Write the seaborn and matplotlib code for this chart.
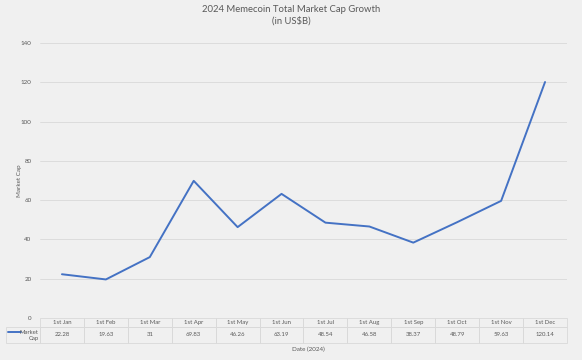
import pandas as pd
import seaborn as sns
import matplotlib.pyplot as plt
from matplotlib.lines import Line2D

months = ['1st Jan', '1st Feb', '1st Mar', '1st Apr', '1st May', '1st Jun',
          '1st Jul', '1st Aug', '1st Sep', '1st Oct', '1st Nov', '1st Dec']
market_cap = [22.28, 19.63, 31, 69.83, 46.26, 63.19,
              48.54, 46.58, 38.37, 48.79, 59.63, 120.14]
value_labels = ['22.28', '19.63', '31', '69.83', '46.26', '63.19',
                '48.54', '46.58', '38.37', '48.79', '59.63', '120.14']

df = pd.DataFrame({'pos': range(len(months)), 'month': months, 'cap': market_cap})

bg = '#f0f0f0'
grid_c = '#d9d9d9'
text_c = '#595959'
blue = '#4472C4'

sns.set_theme(style="white")
plt.rcParams['font.family'] = ['Lato', 'DejaVu Sans']

fig = plt.figure(figsize=(5.82, 3.6), dpi=100, facecolor=bg)
ax = fig.add_axes([40 / 582, 1 - 318 / 360, 527 / 582, 275 / 360])
ax.set_facecolor(bg)

sns.lineplot(data=df, x='pos', y='cap', ax=ax, color=blue, linewidth=1.4)

ax.set_xlim(-0.5, 11.5)
ax.set_ylim(0, 140)
ax.set_yticks(range(0, 141, 20))
ax.yaxis.grid(True, color=grid_c, linewidth=0.6)
ax.set_axisbelow(True)
for s in ax.spines.values():
    s.set_visible(False)
ax.set_xticks([])
ax.tick_params(axis='y', length=0, labelsize=4.5, labelcolor=text_c, pad=6)
ax.set_xlabel('')
ax.set_ylabel('Market Cap', fontsize=4.5, color=text_c)
ax.yaxis.set_label_coords(-18 / 527, 0.5)

# data table under the plot
legend_w = 34 / 527
cell_text = [[''] + months, [''] + value_labels]
tbl = ax.table(cellText=cell_text, cellLoc='center',
               colWidths=[legend_w] + [1 / 12] * 12,
               bbox=[-legend_w, -25 / 275, 1 + legend_w, 25 / 275])
tbl.auto_set_font_size(False)
tbl.set_fontsize(4.3)
for (r, c), cell in tbl.get_celld().items():
    cell.set_edgecolor(grid_c)
    cell.set_linewidth(0.6)
    cell.set_facecolor('none')
    cell.get_text().set_color(text_c)
    cell.set_height(9 if r == 0 else 16)
    if r == 0 and c == 0:
        cell.visible_edges = ''

# legend key inside the first table cell
ax.add_line(Line2D([-32 / 527, -19 / 527], [-14 / 275, -14 / 275],
                   transform=ax.transAxes, color=blue, linewidth=1.4, clip_on=False))
ax.text(-1.5 / 527, -14 / 275, 'Market', transform=ax.transAxes, ha='right',
        va='center', fontsize=4.3, color=text_c)
ax.text(-1.5 / 527, -20.5 / 275, 'Cap', transform=ax.transAxes, ha='right',
        va='center', fontsize=4.3, color=text_c)

fig.text(308 / 582, 1 - 349 / 360, 'Date (2024)', ha='center', va='center',
         fontsize=4.5, color=text_c)
fig.text(0.5, 1 - 9.5 / 360, '2024 Memecoin Total Market Cap Growth', ha='center',
         va='center', fontsize=6.8, color=text_c)
fig.text(0.5, 1 - 21 / 360, '(in US$B)', ha='center', va='center',
         fontsize=6.8, color=text_c)

plt.savefig('out.png', dpi=100, facecolor=bg)
